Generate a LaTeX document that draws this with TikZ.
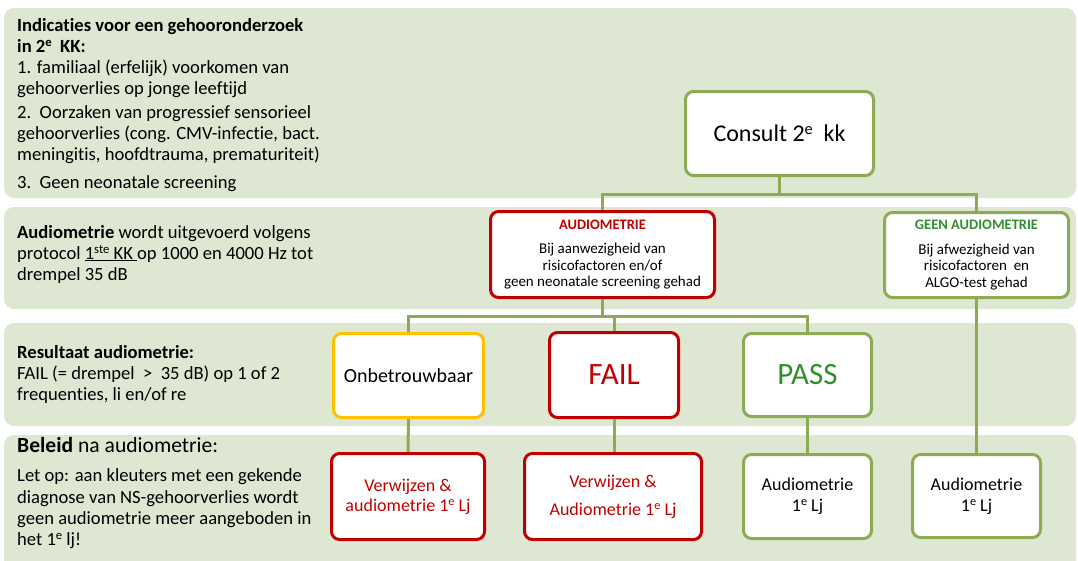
\documentclass[tikz,border=0pt]{standalone}
\usepackage{fontspec}
\usepackage{graphicx}
\setmainfont[Ligatures=NoCommon]{Carlito}
\newcommand{\sups}[1]{\raisebox{0.32em}{\scalebox{0.68}{#1}}}
\definecolor{panel}{RGB}{222,231,209}
\definecolor{ogreen}{RGB}{141,170,85}
\definecolor{dred}{RGB}{192,0,0}
\definecolor{dyel}{RGB}{255,192,0}
\definecolor{tgreen}{RGB}{47,143,47}
\begin{document}
\begin{tikzpicture}[x=1pt,y=-1pt,
  panelbox/.style={fill=panel,draw=none,rounded corners=10pt},
  box/.style={draw=#1,line width=3pt,rounded corners=8pt,fill=white,align=center,inner sep=2pt},
  conn/.style={draw=ogreen,line width=3pt},
  ln/.style={anchor=base west,inner sep=0pt,font=\fontsize{18.6}{21}\selectfont},
  lnb/.style={ln,font=\fontsize{18.6}{21}\selectfont\bfseries}
]
\useasboundingbox (0,0) rectangle (1078,560);
% panels
\fill[panelbox] (4,8) rectangle (1076,198);
\fill[panelbox] (4,207) rectangle (1076,309);
\fill[panelbox] (4,323) rectangle (1076,426);
\fill[panelbox] (4,435) rectangle (1076,580);
% left texts
\node[lnb] (a1) at (17,31) {Indicaties voor een gehooronderzoek};
\node[lnb] (a2) at (17,52) {in 2\sups{e}\ \ KK:};
\node[ln] (a3) at (17,73) {1. familiaal (erfelijk) voorkomen van};
\node[ln] (a4) at (17,94) {gehoorverlies op jonge leeftijd};
\node[ln] (a5) at (17,118) {2.\ \ Oorzaken van progressief sensorieel};
\node[ln] (a6) at (17,139) {gehoorverlies (cong. CMV-infectie, bact.};
\node[ln] (a7) at (17,160) {meningitis, hoofdtrauma, prematuriteit)};
\node[ln] (a8) at (17,188) {3.\ \ Geen neonatale screening};
\node[ln] (b1) at (17,238) {\textbf{Audiometrie} wordt uitgevoerd volgens};
\node[ln] (b2) at (17,259) {protocol \underline{1\sups{ste} KK }op 1000 en 4000 Hz tot};
\node[ln] (b3) at (17,280) {drempel 35 dB};
\node[lnb] (c1) at (17,358) {Resultaat audiometrie:};
\node[ln] (c2) at (17,379) {FAIL (= drempel\ \ >\ \ 35 dB) op 1 of 2};
\node[ln] (c3) at (17,400) {frequenties, li en/of re};
\node[ln,font=\fontsize{21.6}{24}\selectfont] (d1) at (17,452) {\textbf{Beleid} na audiometrie:};
\node[ln] (d2) at (17,481) {Let op: aan kleuters met een gekende};
\node[ln] (d3) at (17,503) {diagnose van NS-gehoorverlies wordt};
\node[ln] (d4) at (17,524) {geen audiometrie meer aangeboden in};
\node[ln] (d5) at (17,545) {het 1\sups{e} lj!};
% boxes
\node[box=ogreen,minimum width=188pt,minimum height=84pt,font=\fontsize{24}{28}\selectfont] (consult) at (779.5,133.5) {Consult 2\sups{e}\ \ kk};
\node[box=dred,minimum width=224pt,minimum height=86pt,font=\fontsize{15}{16.5}\selectfont] (audio) at (602.5,254.5) {\textcolor{dred}{\textbf{\fontsize{14.5}{16}\selectfont AUDIOMETRIE}}\\[8pt]Bij aanwezigheid van\\risicofactoren en/of\\geen neonatale screening gehad};
\node[box=ogreen,minimum width=184pt,minimum height=85pt,font=\fontsize{15}{16.5}\selectfont] (geen) at (976.5,255) {\textcolor{tgreen}{\textbf{\fontsize{14.5}{16}\selectfont GEEN AUDIOMETRIE}}\\[8pt]Bij afwezigheid van\\risicofactoren\ \ en\\ALGO-test gehad};
\node[box=dyel,minimum width=150pt,minimum height=84pt,font=\fontsize{20}{24}\selectfont] (onb) at (408.5,375.5) {Onbetrouwbaar};
\node[box=dred,minimum width=129pt,minimum height=85pt,font=\fontsize{31}{34}\selectfont,text=dred] (fail) at (614,375) {FAIL};
\node[box=ogreen,minimum width=128pt,minimum height=83pt,font=\fontsize{31}{34}\selectfont,text=tgreen] (pass) at (807.5,375) {PASS};
\node[box=dred,minimum width=153pt,minimum height=86pt,font=\fontsize{18}{20}\selectfont,text=dred] (verw1) at (408,496.5) {Verwijzen \&\\audiometrie 1\sups{e} Lj};
\node[box=dred,minimum width=177pt,minimum height=86pt,font=\fontsize{18}{28}\selectfont,text=dred] (verw2) at (613,496.5) {Verwijzen \&\\Audiometrie 1\sups{e} Lj};
\node[box=ogreen,minimum width=128pt,minimum height=84pt,font=\fontsize{18}{21}\selectfont] (aud1) at (807.5,496.5) {Audiometrie\\1\sups{e} Lj};
\node[box=ogreen,minimum width=128pt,minimum height=83pt,font=\fontsize{18}{21}\selectfont] (aud2) at (976.5,496) {Audiometrie\\1\sups{e} Lj};
% connectors
\coordinate (bar1) at (0,194);
\coordinate (bar2) at (0,316);
\draw[conn] (consult.south) -- (consult.south |- bar1);
\draw[conn] (audio.north) -- (audio.north |- bar1) -| (geen.north);
\draw[conn] (audio.south) -- (audio.south |- bar2);
\draw[conn] (onb.north) -- (onb.north |- bar2) -| (pass.north);
\draw[conn] (fail.north) -- (fail.north |- bar2);
\draw[conn] (onb.south) -- (verw1.north);
\draw[conn] (fail.south) -- (fail.south |- verw2.north);
\draw[conn] (pass.south) -- (aud1.north);
\draw[conn] (geen.south) -- (aud2.north);
\end{tikzpicture}
\end{document}
